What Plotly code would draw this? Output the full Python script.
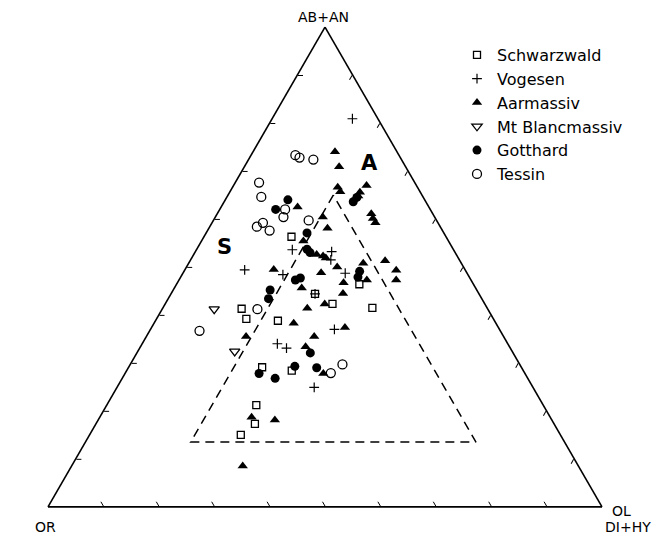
import plotly.graph_objects as go

# ternary values in percent: (AB+AN, OR, OL/DI+HY)
SCHWARZWALD = [(56.3, 27.9, 15.8), (44.4, 29.6, 26.0), (46.4, 20.6, 33.0), (42.3, 27.5, 30.2),
               (41.5, 20.7, 37.8), (41.3, 44.4, 14.3), (39.2, 44.6, 16.2), (38.8, 39.1, 22.1),
               (29.1, 46.8, 24.1), (28.4, 41.8, 29.8), (21.2, 51.8, 27.0), (17.3, 54.0, 28.7),
               (15.0, 57.7, 27.3)]
VOGESEN = [(80.9, 4.6, 14.5), (53.6, 29.1, 17.3), (53.2, 22.2, 24.6), (51.5, 23.2, 25.3),
           (49.4, 39.8, 10.8), (48.4, 33.4, 18.2), (48.7, 22.0, 29.3), (44.4, 29.6, 26.0),
           (37.0, 29.8, 33.2), (34.0, 41.6, 24.4), (33.1, 40.4, 26.5), (24.9, 39.5, 35.6)]
AARMASSIV = [(74.0, 11.2, 14.8), (70.9, 12.0, 17.1), (66.6, 14.4, 19.0), (65.7, 14.4, 19.9),
             (67.0, 9.0, 24.0), (65.6, 10.9, 23.5), (64.8, 11.6, 23.6), (62.5, 23.7, 13.8),
             (60.4, 20.2, 19.4), (58.1, 20.5, 21.4), (55.4, 26.2, 18.4), (61.1, 11.1, 27.8),
             (60.1, 11.3, 28.6), (59.2, 11.3, 29.5), (52.6, 25.2, 22.2), (52.3, 24.2, 23.5),
             (51.9, 23.9, 24.2), (49.5, 34.5, 16.0), (45.6, 31.4, 23.0), (48.8, 26.3, 24.9),
             (50.0, 22.8, 27.2), (50.8, 17.7, 31.5), (51.3, 13.5, 35.2), (49.3, 12.5, 38.2),
             (47.3, 13.5, 39.2), (47.3, 18.8, 33.9), (46.7, 23.3, 30.0), (44.5, 24.5, 31.0),
             (42.3, 28.9, 28.8), (41.4, 32.5, 26.1), (38.3, 36.5, 25.2), (37.4, 27.7, 34.9),
             (35.5, 34.2, 30.3), (35.5, 46.5, 18.0), (33.4, 36.8, 29.8), (27.8, 36.4, 35.8),
             (18.7, 53.9, 27.4), (18.1, 50.0, 31.9), (8.5, 60.6, 30.9)]
MT_BLANC = [(41.2, 49.4, 9.4), (32.4, 50.1, 17.5)]
GOTTHARD = [(64.0, 24.7, 11.3), (62.0, 27.9, 10.1), (57.1, 24.7, 18.2), (53.7, 26.4, 19.9),
            (53.0, 26.2, 20.8), (63.6, 13.1, 23.3), (64.5, 12.0, 23.5), (45.2, 37.3, 17.5),
            (43.4, 38.5, 18.1), (47.3, 31.7, 21.0), (47.7, 30.6, 21.7), (49.1, 19.2, 31.7),
            (47.9, 20.1, 32.0), (32.1, 36.6, 31.3), (29.3, 40.8, 29.9), (27.8, 48.0, 24.2),
            (26.8, 45.6, 27.6), (29.0, 37.0, 34.0)]
TESSIN = [(73.3, 18.7, 8.0), (72.8, 18.2, 9.0), (72.4, 15.9, 11.7), (67.6, 28.1, 4.3),
          (64.6, 29.2, 6.2), (62.0, 26.2, 11.8), (60.4, 27.3, 12.3), (58.4, 33.1, 8.5),
          (59.2, 31.6, 9.2), (57.6, 31.2, 11.2), (59.7, 23.1, 17.2), (41.2, 41.6, 17.2),
          (36.7, 54.3, 9.0), (27.9, 35.0, 37.1), (29.7, 32.0, 38.3)]
# dashed field boundary (closed polygon)
FIELD = [(65.0, 16.0, 19.0), (13.5, 67.5, 19.0), (13.5, 16.0, 70.5), (65.0, 16.0, 19.0)]

SERIES = [
    ("Schwarzwald", SCHWARZWALD, "square-open", 7, 1.3),
    ("Vogesen", VOGESEN, "cross-thin-open", 7, 1.2),
    ("Aarmassiv", AARMASSIV, "triangle-up", 9, 0),
    ("Mt Blancmassiv", MT_BLANC, "triangle-down-open", 9, 1.3),
    ("Gotthard", GOTTHARD, "circle", 9, 0),
    ("Tessin", TESSIN, "circle-open", 9, 1.3),
]

FONT = "DejaVu Sans"
fig = go.Figure()

fig.add_trace(go.Scatterternary(
    a=[p[0] for p in FIELD], b=[p[1] for p in FIELD], c=[p[2] for p in FIELD],
    mode="lines", line=dict(color="black", width=1.5, dash="9px,6px"),
    showlegend=False, hoverinfo="skip"))

for name, pts, sym, size, lw in SERIES:
    fig.add_trace(go.Scatterternary(
        a=[p[0] for p in pts], b=[p[1] for p in pts], c=[p[2] for p in pts],
        mode="markers", name=name,
        marker=dict(symbol=sym, size=size, color="black",
                    line=dict(color="black", width=lw))))

axis_common = dict(
    showgrid=False, showticklabels=False, ticks="inside", ticklen=5,
    tickcolor="black", tickwidth=1, linecolor="black", linewidth=1.6,
    tickvals=[10, 20, 30, 40, 50, 60, 70, 80, 90], min=0, title=dict(text=""))

W, H = 665, 537
fig.update_layout(
    width=W, height=H,
    margin=dict(l=0, r=0, t=0, b=0),
    paper_bgcolor="white",
    font=dict(family=FONT, color="black"),
    ternary=dict(
        sum=100,
        domain=dict(x=[48 / W, 602 / W], y=[30 / H, 510 / H]),
        bgcolor="white",
        aaxis=axis_common, baxis=axis_common, caxis=axis_common),
    legend=dict(x=457 / W, y=1 - 38 / H, xanchor="left", yanchor="top",
                font=dict(family=FONT, size=16, color="black"),
                bgcolor="rgba(0,0,0,0)", itemwidth=30, tracegroupgap=0),
    showlegend=True,
)

def ann(text, px, py, size, bold=False, xanchor="center"):
    fig.add_annotation(
        text=f"<b>{text}</b>" if bold else text,
        x=px / W, y=1 - py / H, xref="paper", yref="paper",
        showarrow=False, xanchor=xanchor, yanchor="middle",
        font=dict(family=FONT, size=size, color="black"))

ann("AB+AN", 323, 17, 14)
ann("OR", 45, 527, 14)
ann("OL", 621, 511, 14)
ann("DI+HY", 628, 527, 14)
ann("S", 224, 247, 21, bold=True)
ann("A", 369, 163, 21, bold=True)

fig.write_html("out.html")
